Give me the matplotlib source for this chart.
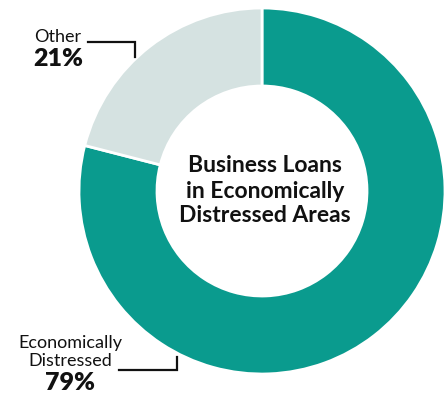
import matplotlib
matplotlib.use("Agg")
import matplotlib.pyplot as plt

labels = ["Economically\nDistressed", "Other"]
shares = [79, 21]
colors = ["#0a9b8e", "#d5e2e1"]
title_lines = ["Business Loans", "in Economically", "Distressed Areas"]

plt.rcParams["font.family"] = ["Lato", "DejaVu Sans"]

W, H = 445, 396
fig = plt.figure(figsize=(W / 100, H / 100), dpi=100)
ax = fig.add_axes([0, 0, 1, 1])

# donut, pixel-sized so the labels can be placed in the same units
cx, cy, r_out, r_in = 262, H - 191, 183, 105
ax.pie(shares, colors=colors, startangle=90, counterclock=False,
       center=(cx, cy), radius=r_out, frame=True,
       wedgeprops=dict(width=r_out - r_in, edgecolor="white", linewidth=2))
ax.set_xlim(0, W)
ax.set_ylim(0, H)
ax.set_aspect("equal")
ax.axis("off")

# centre title
for txt, base in zip(title_lines, [224, 198, 174]):
    ax.text(265, base, txt, ha="center", va="baseline", fontsize=16.5,
            fontweight="bold", color="#111111")

# "Other" label + leader
ax.text(58, H - 37, labels[1], ha="center", va="center", fontsize=13, color="#111111")
ax.text(58, H - 59, f"{shares[1]}%", ha="center", va="center", fontsize=18,
        fontweight="heavy", color="#111111")
ax.plot([88, 135, 135], [H - 42, H - 42, H - 57], color="#111111", lw=1.6,
        solid_joinstyle="miter")

# "Economically Distressed" label + leader
ax.text(70, H - 352, labels[0], ha="center", va="center", fontsize=13,
        color="#111111", linespacing=1.1)
ax.text(70, H - 383, f"{shares[0]}%", ha="center", va="center", fontsize=18,
        fontweight="heavy", color="#111111")
ax.plot([119, 177, 177], [H - 370, H - 370, H - 357], color="#111111", lw=1.6,
        solid_joinstyle="miter")

fig.savefig("out.png", dpi=100, facecolor="white")
